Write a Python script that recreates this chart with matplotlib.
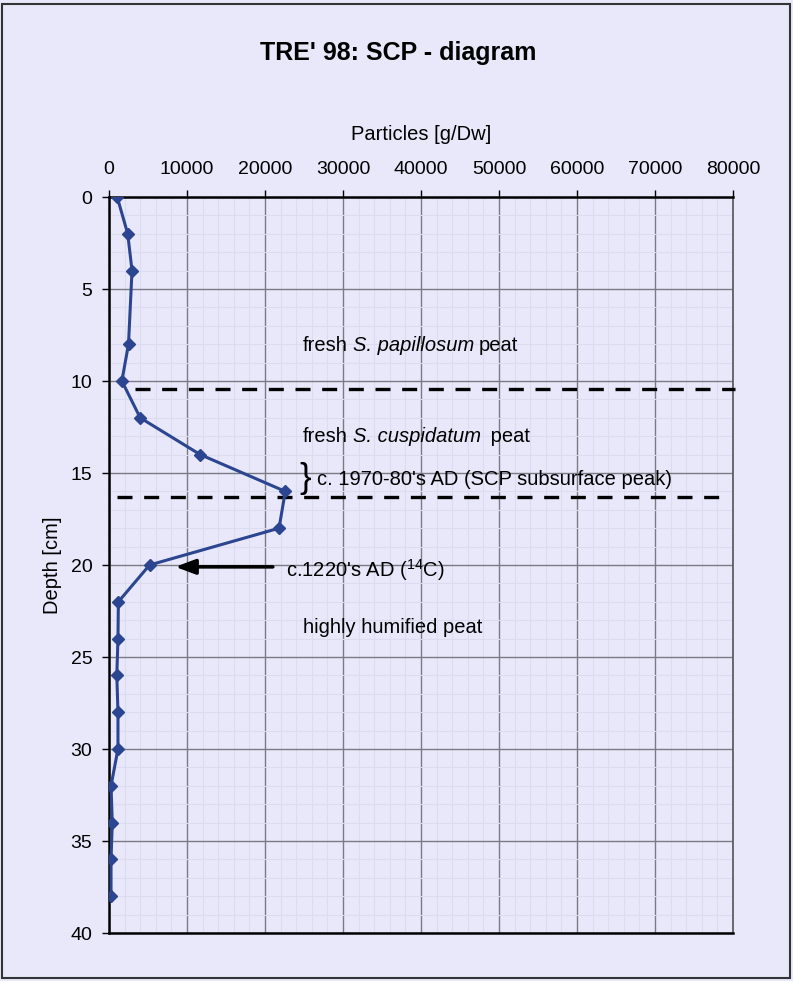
import matplotlib
matplotlib.use("Agg")
import matplotlib.pyplot as plt
from matplotlib.ticker import MultipleLocator
from matplotlib.patches import Rectangle

# ---- data ----
depth = [0, 2, 4, 8, 10, 12, 14, 16, 18, 20, 22, 24, 26, 28, 30, 32, 34, 36, 38]
particles = [1050, 2400, 2950, 2500, 1650, 4000, 11700, 22600, 21800, 5200,
             1200, 1150, 1000, 1150, 1150, 260, 420, 260, 260]
x_ticks = [0, 10000, 20000, 30000, 40000, 50000, 60000, 70000, 80000]
y_ticks = [0, 5, 10, 15, 20, 25, 30, 35, 40]
boundary_depths = [10.43, 16.29]
boundary_x = [(3300, 80300), (1000, 78600)]

title = "TRE' 98: SCP - diagram"
xlabel = "Particles [g/Dw]"
ylabel = "Depth [cm]"

plt.rcParams['font.family'] = ['Liberation Sans', 'DejaVu Sans']
plt.rcParams['mathtext.fontset'] = 'custom'
plt.rcParams['mathtext.rm'] = 'Liberation Sans'
plt.rcParams['mathtext.it'] = 'Liberation Sans:italic'
plt.rcParams['mathtext.bf'] = 'Liberation Sans:bold'

bg = '#E8E8FA'
fig = plt.figure(figsize=(7.93, 9.81), dpi=100, facecolor=bg)
fig.patches.append(Rectangle((0.003, 0.003), 0.993, 0.993, transform=fig.transFigure,
                             fill=False, edgecolor='#333333', linewidth=1.5))

ax = fig.add_axes([109/793, 1 - 933/981, 624/793, 736/981], facecolor=bg)
ax.set_xlim(0, 80000)
ax.set_ylim(40, 0)

ax.xaxis.tick_top()
ax.xaxis.set_label_position('top')
ax.set_xticks(x_ticks)
ax.set_yticks(y_ticks)
ax.xaxis.set_minor_locator(MultipleLocator(2000))
ax.yaxis.set_minor_locator(MultipleLocator(1))
ax.tick_params(axis='both', which='major', labelsize=14, length=5, width=1,
               color='black', direction='out', pad=7)
ax.tick_params(axis='x', which='major', pad=9)
ax.tick_params(axis='both', which='minor', length=0)

ax.grid(True, which='major', color='#7a7a85', linewidth=1.0)
ax.grid(True, which='minor', color='#dcdcf0', linewidth=0.8)
ax.set_axisbelow(True)

for s in ['left', 'top', 'bottom']:
    ax.spines[s].set_color('black')
    ax.spines[s].set_linewidth(1.8)
ax.spines['right'].set_color('#555555')
ax.spines['right'].set_linewidth(1.2)

ax.set_xlabel(xlabel, fontsize=14.5, labelpad=15)
ax.set_ylabel(ylabel, fontsize=14.5, labelpad=6)
fig.text(0.502, 1 - 53/981, title, ha='center', va='center',
         fontsize=18, fontweight='bold')

ax.plot(particles, depth, color='#2B4590', linewidth=2.2, marker='D',
        markersize=6.5, markerfacecolor='#2B4590', markeredgecolor='#2B4590',
        zorder=5)

for d, (x0, x1) in zip(boundary_depths, boundary_x):
    ax.plot([x0, x1], [d, d], color='black', linewidth=2.4,
            linestyle=(0, (4.5, 3.5)), clip_on=False, zorder=4)

fs = 14.5


def mixed_label(x, y, pre, ital, post):
    t1 = ax.text(x, y, pre, fontsize=fs, va='baseline', ha='left')
    t2 = ax.annotate(ital, xy=(1, 0), xycoords=t1, xytext=(3.2, 0),
                     textcoords='offset points', fontsize=fs, style='italic',
                     va='bottom', ha='left')
    ax.annotate(post, xy=(1, 0), xycoords=t2, xytext=(3.2, 0),
                textcoords='offset points', fontsize=fs, va='bottom', ha='left')


mixed_label(24900, 8.35, "fresh", "S. papillosum", "peat")
mixed_label(24900, 13.3, "fresh", "S. cuspidatum", " peat")
ax.text(24900, 23.4, "highly humified peat", fontsize=fs, va='center', ha='left')
ax.text(26700, 15.35, "c. 1970-80's AD (SCP subsurface peak)", fontsize=fs, va='center', ha='left')
ax.text(25100, 15.3, "}", fontsize=25, va='center', ha='center', fontweight='light')
ax.text(22700, 20.25, r"c.1220's AD ($^{14}$C)", fontsize=fs, va='center', ha='left')
ax.annotate("", xy=(8500, 20.1), xytext=(21000, 20.1),
            arrowprops=dict(arrowstyle='-|>,head_length=1.2,head_width=0.45',
                            color='black', linewidth=2.6, shrinkA=0, shrinkB=0))

fig.savefig("out.png", dpi=100, facecolor=bg)
